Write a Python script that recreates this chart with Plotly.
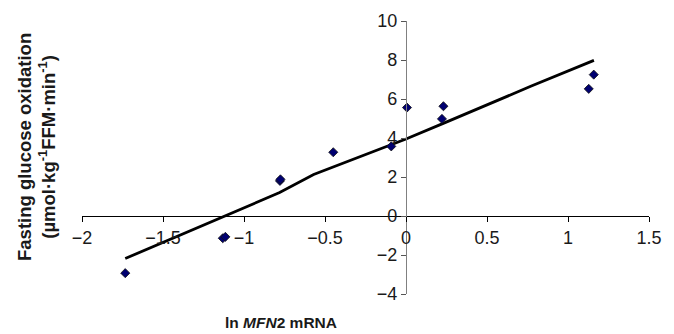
import plotly.graph_objects as go

# Data points (ln MFN2 mRNA vs fasting glucose oxidation)
pt_x = [-1.733, -1.131, -1.115, -0.778, -0.775, -0.449, -0.091, 0.006, 0.222, 0.231, 1.128, 1.159]
pt_y = [-2.93, -1.14, -1.07, 1.80, 1.88, 3.27, 3.57, 5.56, 4.98, 5.63, 6.52, 7.25]

# Trend line
line_x = [-1.733, -1.12, -0.78, -0.57, -0.16, 0.0, 0.23, 0.77, 1.16]
line_y = [-2.18, 0.0, 1.2, 2.13, 3.41, 3.95, 4.75, 6.65, 7.98]

x_ticks = [-2, -1.5, -1, -0.5, 0, 0.5, 1, 1.5]
x_labels = ["\u22122", "\u22121.5", "\u22121", "\u22120.5", "0", "0.5", "1", "1.5"]
y_ticks = [-4, -2, 0, 2, 4, 6, 8, 10]
y_labels = ["\u22124", "\u22122", "0", "2", "4", "6", "8", "10"]

XR = [-2, 1.5]
YR = [-4, 10]

W, H = 674, 334
L, R, T, B = 82, 25, 21, 40

fig = go.Figure()
fig.add_trace(go.Scatter(x=line_x, y=line_y, mode="lines",
                         line=dict(color="black", width=2.8), showlegend=False))
fig.add_trace(go.Scatter(x=pt_x, y=pt_y, mode="markers",
                         marker=dict(symbol="diamond", size=7, color="#000070",
                                     line=dict(color="#111", width=0.8)),
                         showlegend=False))

FAM = "Liberation Sans, Arial, sans-serif"
font = dict(family=FAM, size=18, color="#1a1a1a")

fig.update_layout(
    width=W, height=H,
    margin=dict(l=L, r=R, t=T, b=B),
    paper_bgcolor="white", plot_bgcolor="white",
    font=font,
    xaxis=dict(range=XR, tickvals=x_ticks, ticktext=x_labels,
               showgrid=False, zeroline=False, showline=True, linecolor="black",
               linewidth=1.2, ticks="outside", ticklen=5, tickcolor="black",
               anchor="free", position=(0 - YR[0]) / (YR[1] - YR[0]),
               tickfont=font),
    yaxis=dict(range=YR, tickvals=y_ticks, ticktext=y_labels,
               showgrid=False, zeroline=False, showline=True, linecolor="#808080",
               linewidth=1.2, ticks="outside", ticklen=5, tickcolor="#555",
               anchor="free", position=(0 - XR[0]) / (XR[1] - XR[0]),
               tickfont=font),
)

plot_w = W - L - R
plot_h = H - T - B
fig.add_annotation(xref="paper", yref="paper",
                   x=(36 - L) / plot_w, y=(H - B - 147) / plot_h,
                   text="<b>Fasting glucose oxidation<br>(\u00b5mol\u00b7kg<sup>-1</sup>FFM\u00b7min<sup>-1</sup>)</b>",
                   textangle=-90, showarrow=False, xanchor="center", yanchor="middle",
                   font=dict(family=FAM, size=18.5, color="#1a1a1a"))
fig.add_annotation(xref="paper", yref="paper",
                   x=(281 - L) / plot_w, y=(H - B - 322) / plot_h,
                   text="<b>ln <i>MFN</i>2 mRNA</b>",
                   showarrow=False, xanchor="center", yanchor="middle",
                   font=dict(family=FAM, size=15.5, color="#1a1a1a"))

fig.write_html("out.html")
